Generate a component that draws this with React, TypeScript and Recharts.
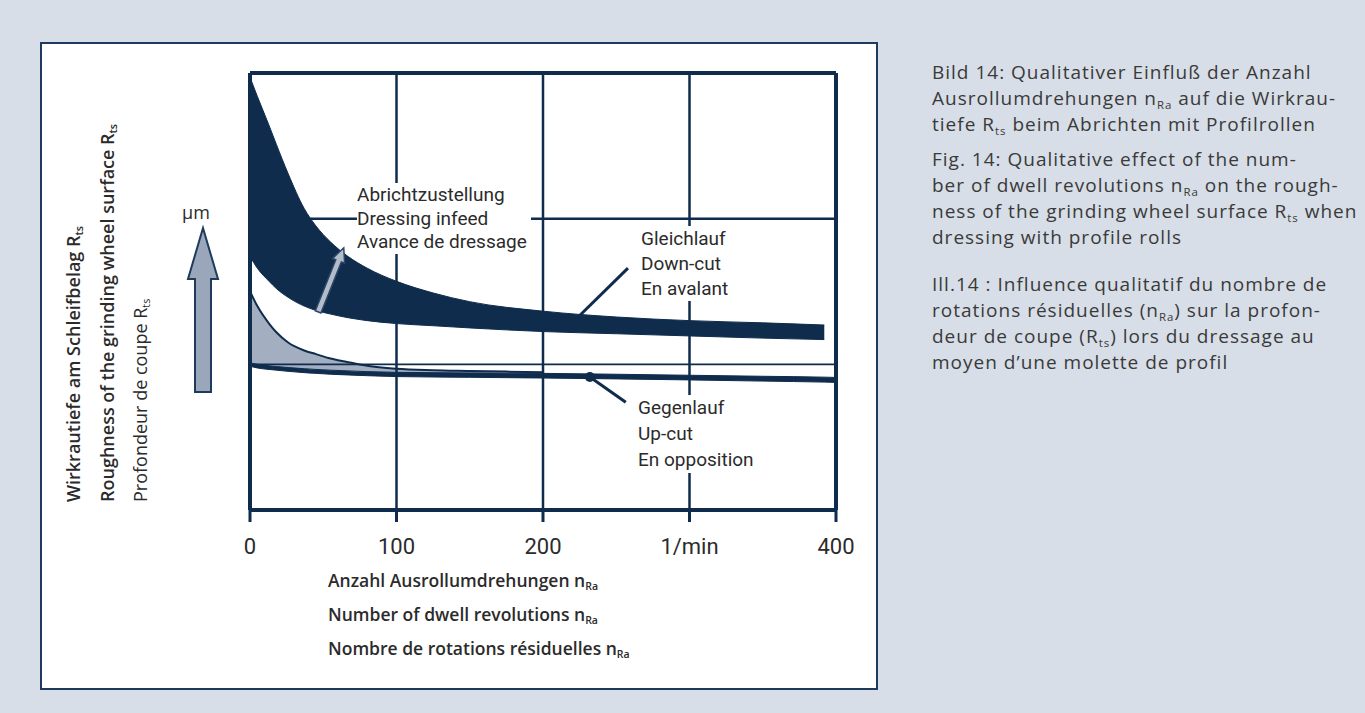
import {
  Area,
  ComposedChart,
  Line,
  ReferenceDot,
  ReferenceLine,
  XAxis,
  YAxis,
} from "recharts";

// dwell revolutions n_Ra (1/min)
const X_VALUES = [0, 5, 13, 18, 26, 37, 45, 55, 67, 80, 100, 125, 150, 200, 250, 300, 350, 392, 400];

// Gleichlauf / down-cut band (qualitative, axis units 0..3)
const DOWN_CUT_TOP = [2.97, 2.84, 2.64, 2.51, 2.31, 2.07, 1.95, 1.84, 1.74, 1.66, 1.57, 1.49, 1.43, 1.365, 1.325, 1.3, 1.285, 1.27, null];
const DOWN_CUT_BOTTOM = [1.74, 1.66, 1.57, 1.52, 1.46, 1.4, 1.37, 1.345, 1.32, 1.3, 1.28, 1.265, 1.25, 1.225, 1.21, 1.195, 1.18, 1.17, null];

// thin curve bounding the shaded infeed region
const INFEED_CURVE = [1.5, 1.4, 1.28, 1.22, 1.15, 1.095, 1.07, 1.04, 1.015, 0.99, 0.97, 0.96, 0.955, 0.945, null, null, null, null, null];

// Gegenlauf / up-cut band
const UP_CUT_TOP = [1.01, 1.0, 0.99, 0.985, 0.978, 0.97, 0.965, 0.96, 0.955, 0.95, 0.945, 0.943, 0.941, 0.938, 0.932, 0.925, 0.918, 0.912, 0.91];
const UP_CUT_BOTTOM = [0.987, 0.975, 0.965, 0.96, 0.952, 0.943, 0.938, 0.932, 0.927, 0.922, 0.916, 0.913, 0.911, 0.906, 0.9, 0.893, 0.885, 0.878, 0.876];

const X_TICKS = [0, 100, 200, 300, 400];
const X_TICK_LABELS = ["0", "100", "200", "1/min", "400"];
const Y_TICKS = [0, 1, 2, 3];

const INK = "#0f2c4d";
const TEXT = "#2b2b2b";

const data = X_VALUES.map((x, i) => ({
  x,
  downCut: DOWN_CUT_TOP[i] == null ? null : [DOWN_CUT_BOTTOM[i], DOWN_CUT_TOP[i]],
  infeed: INFEED_CURVE[i] == null ? null : [UP_CUT_TOP[i], INFEED_CURVE[i]],
  curve: INFEED_CURVE[i],
  upCut: [UP_CUT_BOTTOM[i], UP_CUT_TOP[i]],
}));

function arrowShape(p: any) {
  const { x1, y1, x2, y2 } = p;
  const dx = x2 - x1;
  const dy = y2 - y1;
  const len = Math.hypot(dx, dy) || 1;
  const ux = dx / len;
  const uy = dy / len;
  const nx = -uy;
  const ny = ux;
  const sw = 3;
  const hw = 6.5;
  const hl = 14;
  const bx = x2 - ux * hl;
  const by = y2 - uy * hl;
  const pts = [
    [x1 + nx * sw, y1 + ny * sw],
    [bx + nx * sw, by + ny * sw],
    [bx + nx * hw, by + ny * hw],
    [x2, y2],
    [bx - nx * hw, by - ny * hw],
    [bx - nx * sw, by - ny * sw],
    [x1 - nx * sw, y1 - ny * sw],
  ]
    .map((q) => q.join(","))
    .join(" ");
  return <polygon points={pts} fill="#b3bccb" stroke="#2c4766" strokeWidth={1.5} />;
}

function XTick(props: any) {
  const { x, y, payload } = props;
  const i = X_TICKS.indexOf(payload.value);
  return (
    <text
      x={x}
      y={y + 30}
      textAnchor="middle"
      fill={TEXT}
      style={{ fontFamily: "Roboto, sans-serif", fontSize: 22 }}
    >
      {X_TICK_LABELS[i]}
    </text>
  );
}

const sub = { fontSize: "0.6em", verticalAlign: "-0.32em", lineHeight: 0 } as const;

const noteStyle = {
  position: "absolute",
  fontFamily: "Roboto, sans-serif",
  fontSize: 19,
  color: TEXT,
  background: "#fff",
  whiteSpace: "nowrap",
  paddingRight: 4,
} as const;

const yTitle = (cx: number, weight: number) =>
  ({
    position: "absolute",
    left: cx - 11,
    top: 502,
    lineHeight: "22px",
    transform: "rotate(-90deg)",
    transformOrigin: "0 0",
    whiteSpace: "nowrap",
    fontFamily: "'Open Sans', sans-serif",
    fontSize: 18,
    fontWeight: weight,
    color: TEXT,
  }) as const;

const captionStyle = {
  position: "absolute",
  left: 932,
  fontFamily: "'Open Sans', sans-serif",
  fontSize: 19,
  letterSpacing: 1,
  lineHeight: "26px",
  color: "#3a3a3a",
  whiteSpace: "nowrap",
} as const;

export default function App() {
  return (
    <div
      style={{
        position: "fixed",
        left: 0,
        top: 0,
        width: 1365,
        height: 713,
        background: "#d7dee7",
        overflow: "hidden",
      }}
    >
      <div
        style={{
          position: "absolute",
          left: 40,
          top: 42,
          width: 834,
          height: 644,
          border: "2px solid #1e3a5c",
          background: "#fff",
        }}
      />
      <div style={{ position: "absolute", left: 0, top: 0 }}>
        <ComposedChart
          width={880}
          height={600}
          data={data}
          margin={{ top: 73, right: 44, bottom: 50, left: 210 }}
        >
          <XAxis
            type="number"
            dataKey="x"
            domain={[0, 400]}
            ticks={X_TICKS}
            interval={0}
            allowDataOverflow
            height={40}
            axisLine={{ stroke: INK, strokeWidth: 4 }}
            tickLine={{ stroke: INK, strokeWidth: 3 }}
            tickSize={12}
            tick={<XTick />}
          />
          <YAxis
            type="number"
            domain={[0, 3]}
            ticks={Y_TICKS}
            interval={0}
            allowDataOverflow
            width={40}
            axisLine={{ stroke: INK, strokeWidth: 4 }}
            tickLine={{ stroke: INK, strokeWidth: 3 }}
            tickSize={17}
            tick={false}
          />
          <ReferenceLine x={100} stroke={INK} strokeWidth={2.5} />
          <ReferenceLine x={200} stroke={INK} strokeWidth={2.5} />
          <ReferenceLine x={300} stroke={INK} strokeWidth={2.5} />
          <ReferenceLine x={400} stroke={INK} strokeWidth={4} />
          <ReferenceLine y={3} stroke={INK} strokeWidth={4} />
          <ReferenceLine y={2} stroke={INK} strokeWidth={2.5} />
          <ReferenceLine y={1} stroke={INK} strokeWidth={1.8} />

          <Area
            type="monotone"
            dataKey="infeed"
            fill="#a3aec0"
            fillOpacity={1}
            stroke="none"
            isAnimationActive={false}
            activeDot={false}
          />
          <Line
            type="monotone"
            dataKey="curve"
            stroke={INK}
            strokeWidth={2}
            dot={false}
            activeDot={false}
            isAnimationActive={false}
          />
          <Area
            type="monotone"
            dataKey="upCut"
            fill={INK}
            fillOpacity={1}
            stroke={INK}
            strokeWidth={1}
            isAnimationActive={false}
            activeDot={false}
          />
          <Area
            type="monotone"
            dataKey="downCut"
            fill={INK}
            fillOpacity={1}
            stroke={INK}
            strokeWidth={1}
            isAnimationActive={false}
            activeDot={false}
          />

          <ReferenceLine
            segment={[
              { x: 224, y: 1.325 },
              { x: 258, y: 1.66 },
            ]}
            stroke={INK}
            strokeWidth={3}
          />
          <ReferenceLine
            segment={[
              { x: 232, y: 0.913 },
              { x: 256.5, y: 0.74 },
            ]}
            stroke={INK}
            strokeWidth={3}
          />
          <ReferenceDot x={232} y={0.913} r={5} fill={INK} stroke="none" />
          <ReferenceLine
            segment={[
              { x: 46.5, y: 1.36 },
              { x: 64, y: 1.8 },
            ]}
            shape={arrowShape}
          />
        </ComposedChart>
      </div>

      {/* unit arrow */}
      <svg style={{ position: "absolute", left: 0, top: 0 }} width={260} height={420}>
        <polygon
          points="203,228 218,279 211,279 211,392 195,392 195,279 188,279"
          fill="#9aa6b9"
          stroke="#1f3b5c"
          strokeWidth={2}
          strokeLinejoin="miter"
        />
      </svg>
      <div
        style={{
          position: "absolute",
          left: 176,
          top: 202,
          width: 40,
          textAlign: "center",
          fontFamily: "'Open Sans', sans-serif",
          fontSize: 18,
          lineHeight: "20px",
          color: TEXT,
        }}
      >
        µm
      </div>

      {/* annotations */}
      <div style={{ ...noteStyle, left: 357, top: 183, lineHeight: "23.5px" }}>
        Abrichtzustellung
        <br />
        Dressing infeed
        <br />
        Avance de dressage
      </div>
      <div style={{ ...noteStyle, left: 641, top: 226, lineHeight: "25px" }}>
        Gleichlauf
        <br />
        Down-cut
        <br />
        En avalant
      </div>
      <div style={{ ...noteStyle, left: 638, top: 395, lineHeight: "26px" }}>
        Gegenlauf
        <br />
        Up-cut
        <br />
        En opposition
      </div>

      {/* axis titles */}
      <div style={yTitle(73, 600)}>
        Wirkrautiefe am Schleifbelag R<span style={sub}>ts</span>
      </div>
      <div style={yTitle(107, 600)}>
        Roughness of the grinding wheel surface R<span style={sub}>ts</span>
      </div>
      <div style={yTitle(140, 400)}>
        Profondeur de coupe R<span style={sub}>ts</span>
      </div>
      <div
        style={{
          position: "absolute",
          left: 328,
          top: 563,
          fontFamily: "'Open Sans', sans-serif",
          fontSize: 17.5,
          fontWeight: 600,
          lineHeight: "34px",
          color: TEXT,
          whiteSpace: "nowrap",
        }}
      >
        Anzahl Ausrollumdrehungen n<span style={sub}>Ra</span>
        <br />
        Number of dwell revolutions n<span style={sub}>Ra</span>
        <br />
        Nombre de rotations résiduelles n<span style={sub}>Ra</span>
      </div>

      {/* caption */}
      <div style={{ ...captionStyle, top: 59 }}>
        Bild 14: Qualitativer Einfluß der Anzahl
        <br />
        Ausrollumdrehungen n<span style={sub}>Ra</span> auf die Wirkrau-
        <br />
        tiefe R<span style={sub}>ts</span> beim Abrichten mit Profilrollen
      </div>
      <div style={{ ...captionStyle, top: 146 }}>
        Fig. 14: Qualitative effect of the num-
        <br />
        ber of dwell revolutions n<span style={sub}>Ra</span> on the rough-
        <br />
        ness of the grinding wheel surface R<span style={sub}>ts</span> when
        <br />
        dressing with profile rolls
      </div>
      <div style={{ ...captionStyle, top: 271 }}>
        Ill.14 : Influence qualitatif du nombre de
        <br />
        rotations résiduelles (n<span style={sub}>Ra</span>) sur la profon-
        <br />
        deur de coupe (R<span style={sub}>ts</span>) lors du dressage au
        <br />
        moyen d’une molette de profil
      </div>
    </div>
  );
}
